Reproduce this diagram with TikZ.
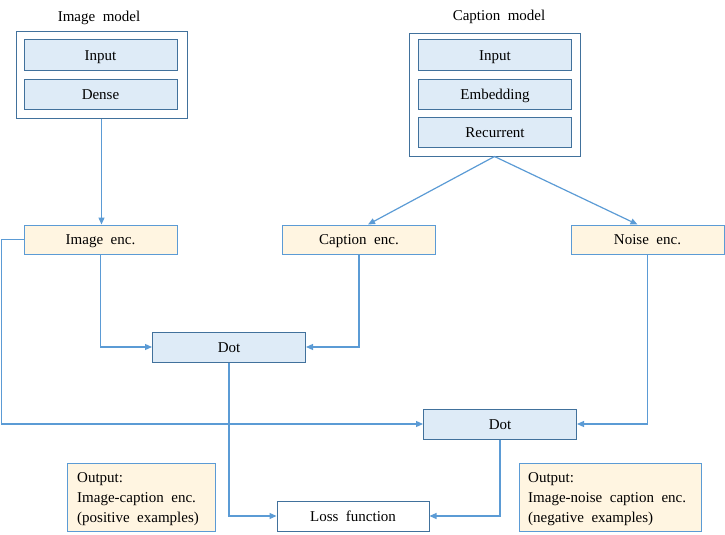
\documentclass[tikz,border=0pt]{standalone}
\usepackage{fontspec}
\setmainfont{Liberation Serif}[WordSpace=2]
\usetikzlibrary{arrows.meta}
\definecolor{bd}{HTML}{41719C}
\definecolor{bfill}{HTML}{DEEBF7}
\definecolor{yfill}{HTML}{FFF5E1}
\definecolor{ln}{HTML}{5B9BD5}
\begin{document}
\begin{tikzpicture}[x=1pt,y=-1pt,
  every node/.style={font=\fontsize{15}{20}\selectfont, inner sep=0pt},
  oneline/.style={text height=11pt, text depth=1pt},
  bluebox/.style={oneline, draw=bd, fill=bfill, line width=1pt, minimum width=153pt, minimum height=30pt},
  encbox/.style={oneline, draw=ln, fill=yfill, line width=1pt, minimum width=153pt, minimum height=29pt},
  whitebox/.style={oneline, draw=bd, fill=white, line width=1pt},
  outbox/.style={draw=ln, fill=yfill, line width=1pt, minimum height=68pt},
  outtext/.style={anchor=base west, align=left},
  conn/.style={draw=ln, line width=1.2pt, -{Triangle[length=7pt,width=6pt]}},
  title/.style={oneline}]
\useasboundingbox (0,0) rectangle (725,535);
% titles
\node[title] (imgtitle) at (99,17) {Image model};
\node[title] (captitle) at (499,16) {Caption model};
% model containers
\node[whitebox, minimum width=171pt, minimum height=86pt] (imgmodel) at (101.5,75) {};
\node[whitebox, minimum width=171pt, minimum height=122pt] (capmodel) at (494.5,95) {};
% image model layers
\node[bluebox] (imginput) at (100.5,55) {Input};
\node[bluebox] (imgdense) at (100.5,94) {Dense};
% caption model layers
\node[bluebox] (capinput) at (495,55) {Input};
\node[bluebox] (capemb) at (495,94) {Embedding};
\node[bluebox] (caprec) at (495,132.5) {Recurrent};
% encoders
\node[encbox] (imgenc) at (100.5,239.5) {Image enc.};
\node[encbox] (capenc) at (359,239.5) {Caption enc.};
\node[encbox] (noiseenc) at (647.5,239.5) {Noise enc.};
% dots
\node[bluebox] (dot1) at (229,347) {Dot};
\node[bluebox] (dot2) at (500,424) {Dot};
% loss
\node[whitebox, minimum width=152pt, minimum height=30pt] (loss) at (353,516) {Loss function};
% outputs
\node[outbox, minimum width=148pt] (out1) at (141,497) {};
\node[outbox, minimum width=182pt] (out2) at (610,497) {};
\node[outtext] (out1txt) at (77,522) {Output:\\Image-caption enc.\\(positive examples)};
\node[outtext] (out2txt) at (528,522) {Output:\\Image-noise caption enc.\\(negative examples)};
% connectors
\coordinate (lc) at (1.5,0);
\draw[conn] (imgmodel.south) -- (imgmodel.south |- imgenc.north);
\draw[conn] (capmodel.south) -- ([xshift=9pt]capenc.north);
\draw[conn] (capmodel.south) -- ([xshift=-10pt]noiseenc.north);
\draw[conn] (imgenc.south) |- (dot1.west);
\draw[conn] (capenc.south) |- (dot1.east);
\draw[conn] (imgenc.west) -- (imgenc.west -| lc) |- (dot2.west);
\draw[conn] (noiseenc.south) |- (dot2.east);
\draw[conn] (dot1.south) |- (loss.west);
\draw[conn] (dot2.south) |- (loss.east);
\end{tikzpicture}
\end{document}
